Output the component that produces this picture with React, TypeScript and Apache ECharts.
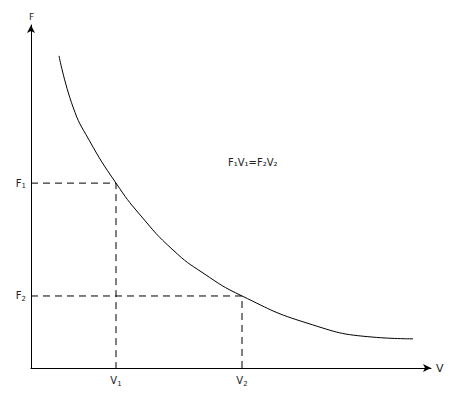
import React, { useEffect, useRef } from "react";
import * as echarts from "echarts";

const curveV = [0.7, 1.05, 1.45, 2.125, 2.73, 3.55, 4.3, 5.275, 6.9, 8.55, 9.55];
const curveP = [9.1, 7.61, 6.65, 5.39, 4.46, 3.44, 2.77, 2.1, 1.31, 0.9, 0.85];
const V1 = 2.125;
const P1 = 5.39;
const V2 = 5.275;
const P2 = 2.1;
const equation = "F₁V₁=F₂V₂";

export default function App() {
  const ref = useRef<HTMLDivElement>(null);
  useEffect(() => {
    document.body.style.margin = "0";
    const chart = echarts.init(ref.current!, null, { renderer: "svg" });
    const font = { fontFamily: "DejaVu Sans", fontSize: 10, color: "#222" };
    const rich = {
      b: { fontFamily: "DejaVu Sans", fontSize: 10, color: "#222" },
      s: { fontFamily: "DejaVu Sans", fontSize: 7, color: "#222", verticalAlign: "bottom", padding: [6, 0, 0, 0] },
    };
    const mkRef = (v: number, p: number, n: string) => ({
      type: "line",
      data: [
        { value: [0, p], label: { show: true, position: "left", distance: 5, formatter: `{b|F}{s|${n}}`, rich } },
        [v, p],
        { value: [v, 0], label: { show: true, position: "bottom", distance: 6, formatter: `{b|V}{s|${n}}`, rich } },
      ],
      showSymbol: true,
      symbol: "circle",
      symbolSize: 0,
      itemStyle: { color: "transparent" },
      lineStyle: { color: "#000", width: 1, type: [7, 5] },
      silent: true,
      z: 1,
    });
    chart.setOption({
      animation: false,
      grid: { left: 31, right: 27, top: 25, bottom: 31 },
      xAxis: {
        type: "value",
        min: 0,
        max: 10,
        name: "V",
        nameGap: 5,
        nameTextStyle: { ...font, fontSize: 11, padding: [2, 0, 0, 0] },
        axisLine: { show: true, lineStyle: { color: "#000", width: 1 }, symbol: ["none", "arrow"], symbolSize: [6, 8] },
        axisTick: { show: false },
        axisLabel: { show: false },
        splitLine: { show: false },
      },
      yAxis: {
        type: "value",
        min: 0,
        max: 10,
        name: "F",
        nameGap: 4,
        nameLocation: "end",
        nameTextStyle: { ...font, fontSize: 9, align: "left", padding: [0, 0, 0, -2] },
        axisLine: { show: true, lineStyle: { color: "#000", width: 1 }, symbol: ["none", "arrow"], symbolSize: [6, 8] },
        axisTick: { show: false },
        axisLabel: { show: false },
        splitLine: { show: false },
      },
      series: [
        {
          type: "line",
          data: curveV.map((v, i) => [v, curveP[i]]),
          smooth: true,
          showSymbol: false,
          lineStyle: { color: "#000", width: 1 },
          silent: true,
          z: 3,
        },
        mkRef(V1, P1, "1"),
        mkRef(V2, P2, "2"),
      ],
      graphic: [
        {
          type: "text",
          left: 228,
          top: 157,
          style: { text: equation, fontFamily: "DejaVu Sans", fontSize: 10, fill: "#222" },
        },
      ],
    });
    return () => chart.dispose();
  }, []);
  return <div ref={ref} style={{ width: 458, height: 399 }} />;
}
